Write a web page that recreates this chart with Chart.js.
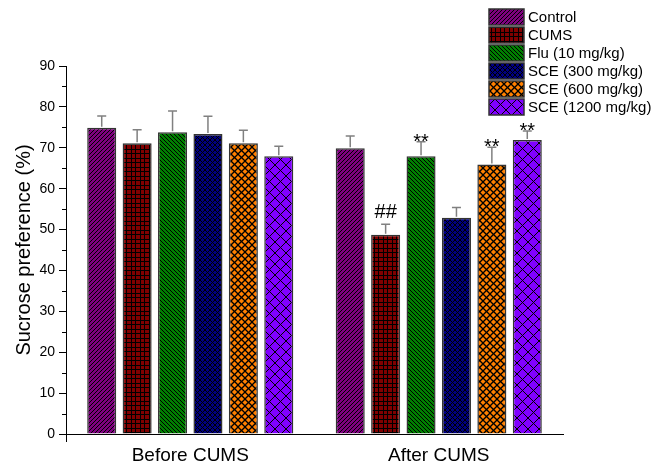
<!DOCTYPE html>
<html>
<head>
<meta charset="utf-8">
<script src="https://cdn.jsdelivr.net/npm/chart.js@4/dist/chart.umd.min.js"></script>
<style>
html,body{margin:0;padding:0;background:#fff;}
canvas{display:block;}
</style>
</head>
<body>
<canvas id="c" width="653" height="462"></canvas>
<script>
// ---- data ----
const categories = ['Before CUMS', 'After CUMS'];
const seriesNames = ['Control', 'CUMS', 'Flu (10 mg/kg)', 'SCE (300 mg/kg)', 'SCE (600 mg/kg)', 'SCE (1200 mg/kg)'];
const controlValues = [74.9, 69.9];
const cumsValues    = [71.1, 48.7];
const fluValues     = [73.8, 67.9];
const sce300Values  = [73.4, 52.9];
const sce600Values  = [71.1, 65.9];
const sce1200Values = [67.9, 71.9];
const controlErr = [2.9, 3.0];
const cumsErr    = [3.3, 2.6];
const fluErr     = [5.2, 3.6];
const sce300Err  = [4.3, 2.5];
const sce600Err  = [3.2, 4.2];
const sce1200Err = [2.5, 2.2];
const controlSig = ['', ''];
const cumsSig    = ['', '##'];
const fluSig     = ['', '**'];
const sce300Sig  = ['', ''];
const sce600Sig  = ['', '**'];
const sce1200Sig = ['', '**'];
const yTicks = [0, 10, 20, 30, 40, 50, 60, 70, 80, 90];

const values = [controlValues, cumsValues, fluValues, sce300Values, sce600Values, sce1200Values];
const errors = [controlErr, cumsErr, fluErr, sce300Err, sce600Err, sce1200Err];
const sigs = [controlSig, cumsSig, fluSig, sce300Sig, sce600Sig, sce1200Sig];

const FONT = "'Liberation Sans', Arial, sans-serif";
Chart.defaults.font.family = FONT;
Chart.defaults.color = '#000';

function makePattern(bg, type, size, lw) {
  const c = document.createElement('canvas');
  c.width = size; c.height = size;
  const g = c.getContext('2d');
  g.fillStyle = bg; g.fillRect(0, 0, size, size);
  g.strokeStyle = '#000'; g.fillStyle = '#000'; g.lineWidth = lw;
  const line = (x1, y1, x2, y2) => { g.beginPath(); g.moveTo(x1, y1); g.lineTo(x2, y2); g.stroke(); };
  if (type === 'fwd' || type === 'cross') {
    line(-1, size + 1, size + 1, -1);
    line(-1, 1, 1, -1);
    line(size - 1, size + 1, size + 1, size - 1);
  }
  if (type === 'back' || type === 'cross') {
    line(-1, -1, size + 1, size + 1);
    line(size - 1, -1, size + 1, 1);
    line(-1, size - 1, 1, size + 1);
  }
  if (type === 'grid') {
    const h = size / 2;
    g.fillRect(0, 0, size, lw); g.fillRect(0, Math.round(h), size, lw);
    g.fillRect(0, 0, lw, size); g.fillRect(Math.round(h), 0, lw, size);
  }
  return g.createPattern(c, 'repeat');
}

const ctx = document.getElementById('c').getContext('2d');
const fills = [
  makePattern('#800080', 'fwd', 4, 1.0),
  makePattern('#800000', 'grid', 9, 1),
  makePattern('#008000', 'back', 4, 1.0),
  makePattern('#000080', 'cross', 5, 1),
  makePattern('#FF8000', 'cross', 7, 1.3),
  makePattern('#8000FF', 'cross', 11, 1)
];

const datasets = seriesNames.map((name, i) => ({
  label: name,
  data: values[i],
  backgroundColor: fills[i],
  borderColor: '#333333',
  borderWidth: 1.5,
  categoryPercentage: 0.855,
  barPercentage: 0.82
}));

const extras = {
  id: 'extras',
  afterDatasetsDraw(chart) {
    const c = chart.ctx;
    const y = chart.scales.y;
    const area = chart.chartArea;
    c.save();
    // error bars + significance
    datasets.forEach((ds, i) => {
      const meta = chart.getDatasetMeta(i);
      meta.data.forEach((bar, j) => {
        const top = y.getPixelForValue(values[i][j] + errors[i][j]);
        c.strokeStyle = '#808080';
        c.lineWidth = 1.5;
        c.beginPath();
        c.moveTo(bar.x, bar.y - 1);
        c.lineTo(bar.x, top);
        c.moveTo(bar.x - 4.5, top);
        c.lineTo(bar.x + 4.5, top);
        c.stroke();
        const s = sigs[i][j];
        if (s) {
          c.fillStyle = '#000';
          c.font = '20px ' + FONT;
          c.textAlign = 'center';
          c.textBaseline = 'alphabetic';
          if (s === '**') c.fillText(s, bar.x, top + 6);
          else c.fillText(s, bar.x, top - 6.5);
        }
      });
    });
    // minor ticks on y
    c.strokeStyle = '#000';
    c.lineWidth = 1;
    for (let v = 5; v < 90; v += 10) {
      const py = Math.round(y.getPixelForValue(v)) + 0.5;
      c.beginPath(); c.moveTo(area.left - 4, py); c.lineTo(area.left, py); c.stroke();
    }
    // axis extension below origin
    c.beginPath();
    c.moveTo(Math.round(area.left) + 0.5, area.bottom);
    c.lineTo(Math.round(area.left) + 0.5, area.bottom + 8);
    c.stroke();
    // legend
    const lx = 489, ly0 = 9, pitch = 18, bw = 35, bh = 16;
    c.font = '15px ' + FONT;
    c.textAlign = 'left';
    c.textBaseline = 'middle';
    datasets.forEach((ds, i) => {
      const yy = ly0 + i * pitch;
      c.fillStyle = ds.backgroundColor;
      c.fillRect(lx, yy, bw, bh);
      c.strokeStyle = '#333333';
      c.lineWidth = 1.5;
      c.strokeRect(lx, yy, bw, bh);
      c.fillStyle = '#000';
      c.fillText(ds.label, lx + bw + 4, yy + bh / 2 + 1);
    });
    c.restore();
  }
};

new Chart(ctx, {
  type: 'bar',
  data: { labels: categories, datasets },
  options: {
    responsive: false,
    animation: false,
    devicePixelRatio: 1,
    layout: { padding: { left: 0, top: 66, right: 90, bottom: 0 } },
    plugins: { legend: { display: false }, tooltip: { enabled: false } },
    scales: {
      x: {
        grid: { display: true, drawOnChartArea: false, drawTicks: false },
        border: { display: true, color: '#000', width: 1 },
        ticks: { font: { size: 19 }, color: '#000', padding: 10 },
        afterFit(s) { s.height = 28; }
      },
      y: {
        min: 0, max: 90,
        afterBuildTicks(s) { s.ticks = yTicks.map(v => ({ value: v })); },
        grid: { drawOnChartArea: false, tickLength: 7, tickColor: '#000', tickWidth: 1 },
        border: { display: true, color: '#000', width: 1 },
        ticks: { font: { size: 14 }, color: '#000', padding: 4 },
        title: { display: true, text: 'Sucrose preference (%)', font: { size: 20 }, color: '#000', padding: { top: 12, bottom: 0 } },
        afterFit(s) { s.width = 66; }
      }
    }
  },
  plugins: [extras]
});
</script>
</body>
</html>
